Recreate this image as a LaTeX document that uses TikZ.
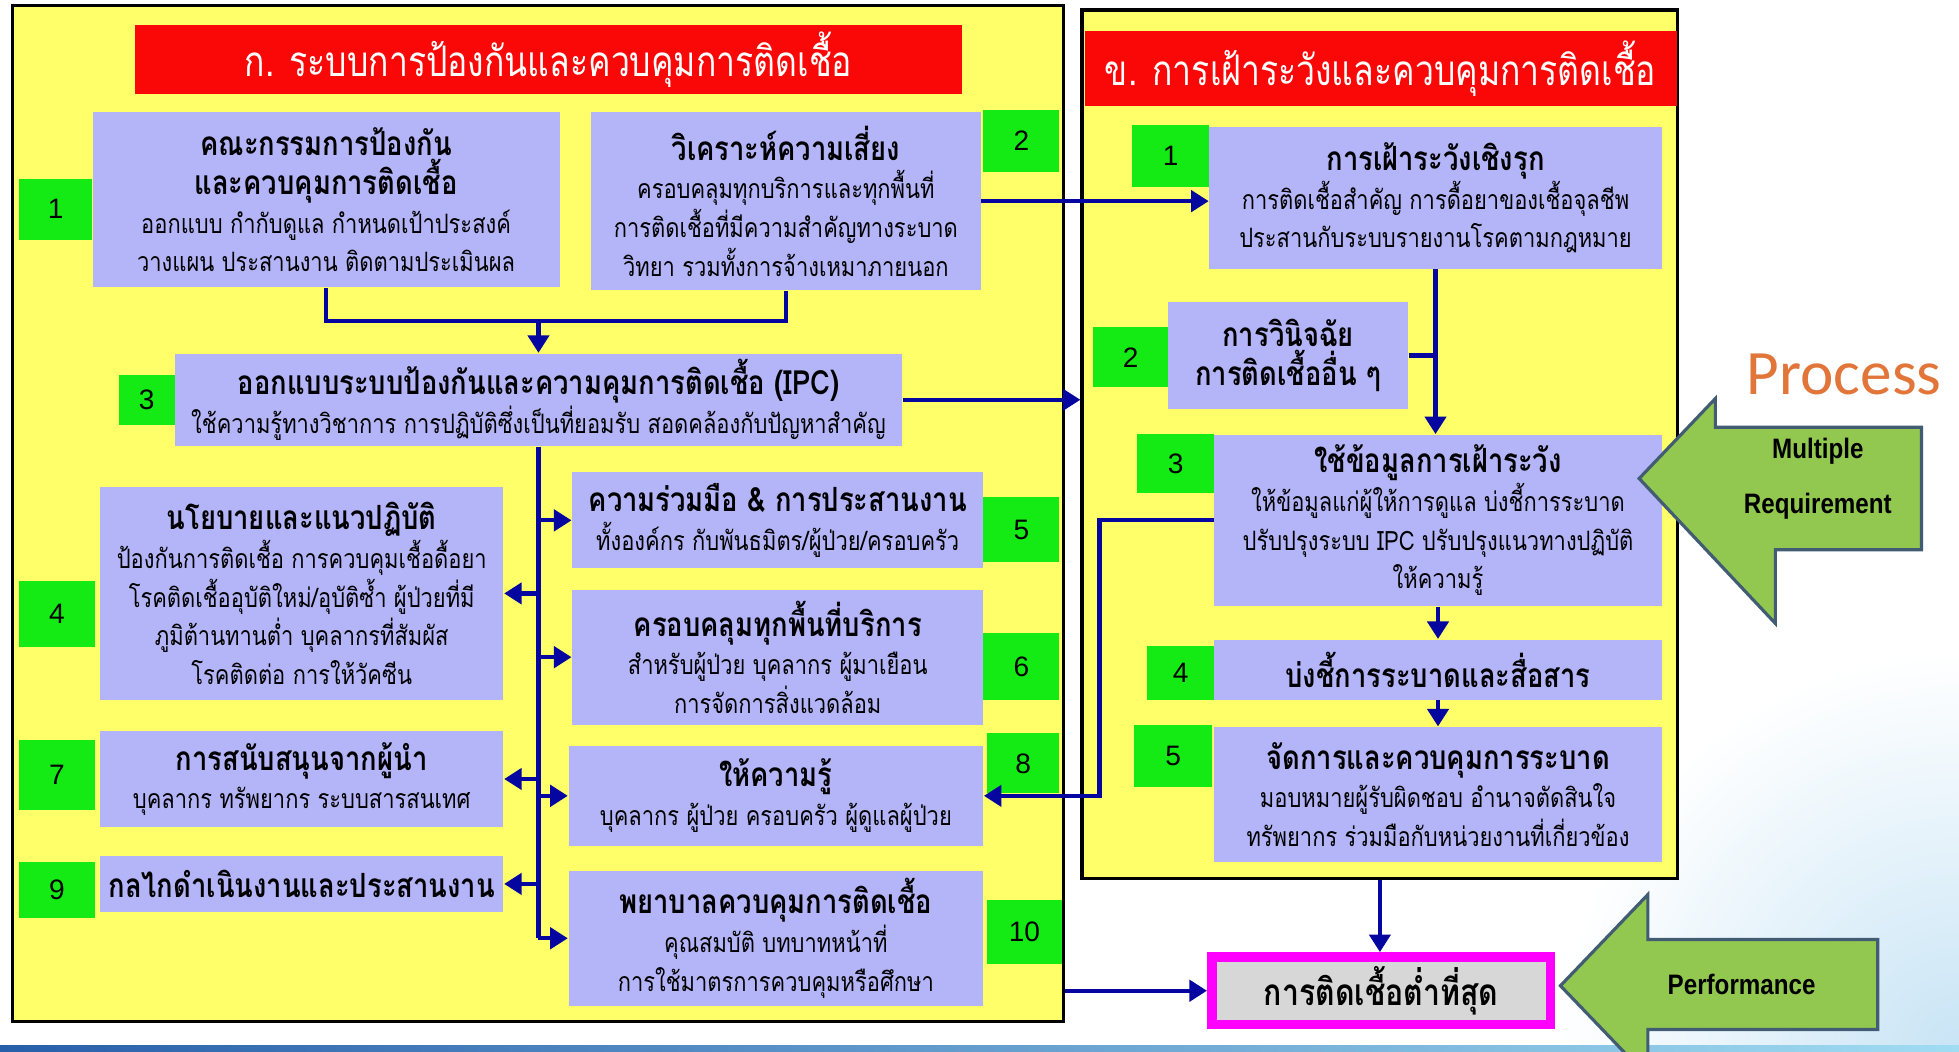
\documentclass[tikz,border=0pt]{standalone}
\usepackage{fontspec}
\setmainfont[Script=Thai,FakeStretch=0.82]{Loma}
\newfontfamily\titlefont[Script=Thai,FakeStretch=0.8]{Loma}
\newfontfamily\numfont{Liberation Sans}
\newfontfamily\narrowfont[FakeStretch=0.86]{Liberation Sans}
\newfontfamily\procfont{Carlito}
\usetikzlibrary{arrows.meta,positioning}
\definecolor{panelyellow}{RGB}{255,255,105}
\definecolor{boxlav}{RGB}{180,180,248}
\definecolor{taggreen}{RGB}{20,235,20}
\definecolor{titlered}{RGB}{250,8,8}
\definecolor{navy}{RGB}{5,5,160}
\definecolor{arrowgreen}{RGB}{146,200,80}
\definecolor{arrowedge}{RGB}{65,92,115}
\definecolor{outmagenta}{RGB}{255,0,255}
\definecolor{outgray}{RGB}{215,215,215}
\definecolor{procorange}{RGB}{226,118,58}
\definecolor{bandblue}{RGB}{40,95,170}
\definecolor{bandcyan}{RGB}{160,220,242}
\definecolor{glowblue}{RGB}{200,228,245}
\newcommand{\hd}[1]{{\bfseries\fontsize{9.5}{11}\selectfont #1}}

\begin{document}
\begin{tikzpicture}[
    x=0.012494cm, y=-0.012494cm,
    sz/.style 2 args={minimum width=#1*0.12494mm, minimum height=#2*0.12494mm},
    panel/.style={draw=black, line width=0.9pt, fill=panelyellow, inner sep=0pt},
    banner/.style={fill=titlered, text=white, inner sep=0pt,
        font=\titlefont\fontsize{12}{14}\selectfont},
    box/.style={fill=boxlav, align=center, inner sep=1pt,
        font=\fontsize{7.6}{11}\selectfont},
    tag/.style={fill=taggreen, inner sep=0pt, font=\numfont\fontsize{8}{10}\selectfont},
    goal/.style={draw=outmagenta, line width=2.8pt, fill=outgray, inner sep=0pt,
        font=\bfseries\fontsize{10.5}{12}\selectfont},
    flow/.style={-{Triangle[length=5pt,width=6pt]}, line width=1.2pt, draw=navy},
    link/.style={line width=1.2pt, draw=navy},
    bigarrow/.style={fill=arrowgreen, draw=arrowedge, line width=0.9pt, line join=miter},
    biglabel/.style={align=center, font=\narrowfont\bfseries\fontsize{8}{15.6}\selectfont}
]
\clip (0,0) rectangle (1568,842);
\fill[white] (0,0) rectangle (1568,842);
\shade[inner color=glowblue, outer color=white] (1568,842) circle (320);
\shade[left color=bandblue, right color=bandcyan] (0,837) rectangle (1568,842);

\node[panel, sz={841}{814}] (leftpanel) at (430.5,411) {};
\node[panel, sz={477}{695}] (rightpanel) at (1104.5,355.5) {};
\node[banner, sz={662}{55}] (titleA) at (439,47.5) {ก. ระบบการป้องกันและควบคุมการติดเชื้อ};
\node[banner, sz={474}{60}] (titleB) at (1105,55) {ข. การเฝ้าระวังและควบคุมการติดเชื้อ};

\node[box, sz={374}{140}] (committee) at (261,160) {\hd{คณะกรรมการป้องกัน}\\\hd{และควบคุมการติดเชื้อ}\\ออกแบบ กำกับดูแล กำหนดเป้าประสงค์\\วางแผน ประสานงาน ติดตามประเมินผล};
\node[tag, sz={59}{49}] (a1) at (44.5,167.5) {1};
\node[box, sz={312}{142}] (risk) at (629,161) {\hd{วิเคราะห์ความเสี่ยง}\\ครอบคลุมทุกบริการและทุกพื้นที่\\การติดเชื้อที่มีความสำคัญทางระบาด\\วิทยา รวมทั้งการจ้างเหมาภายนอก};
\node[tag, sz={61}{50}] (a2) at (817.5,113) {2};
\node[box, sz={582}{74}] (ipc) at (431,320) {\hd{ออกแบบระบบป้องกันและความคุมการติดเชื้อ (IPC)}\\ใช้ความรู้ทางวิชาการ การปฏิบัติซึ่งเป็นที่ยอมรับ สอดคล้องกับปัญหาสำคัญ};
\node[tag, sz={45}{40}] (a3) at (117.5,320) {3};
\node[box, sz={323}{170}] (policy) at (241.5,475) {\hd{นโยบายและแนวปฏิบัติ}\\ป้องกันการติดเชื้อ การควบคุมเชื้อดื้อยา\\โรคติดเชื้ออุบัติใหม่/อุบัติซ้ำ ผู้ป่วยที่มี\\ภูมิต้านทานต่ำ บุคลากรที่สัมผัส\\โรคติดต่อ การให้วัคซีน};
\node[tag, sz={61}{53}] (a4) at (45.5,491.5) {4};
\node[box, sz={329}{77}] (coop) at (622.5,416.5) {\hd{ความร่วมมือ \& การประสานงาน}\\ทั้งองค์กร กับพันธมิตร/ผู้ป่วย/ครอบครัว};
\node[tag, sz={61}{52}] (a5) at (817.5,424) {5};
\node[box, sz={329}{108}] (area) at (622.5,526) {\hd{ครอบคลุมทุกพื้นที่บริการ}\\สำหรับผู้ป่วย บุคลากร ผู้มาเยือน\\การจัดการสิ่งแวดล้อม};
\node[tag, sz={61}{53}] (a6) at (817.5,533.5) {6};
\node[box, sz={323}{77}] (leader) at (241.5,623.5) {\hd{การสนับสนุนจากผู้นำ}\\บุคลากร ทรัพยากร ระบบสารสนเทศ};
\node[tag, sz={61}{56}] (a7) at (45.5,620) {7};
\node[box, sz={332}{80}] (educ) at (621,637) {\hd{ให้ความรู้}\\บุคลากร ผู้ป่วย ครอบครัว ผู้ดูแลผู้ป่วย};
\node[tag, sz={58}{48}] (a8) at (819,611) {8};
\node[box, sz={323}{45}] (mech) at (241.5,707.5) {\hd{กลไกดำเนินงานและประสานงาน}};
\node[tag, sz={61}{45}] (a9) at (45.5,712.5) {9};
\node[box, sz={332}{108}] (icn) at (621,751) {\hd{พยาบาลควบคุมการติดเชื้อ}\\คุณสมบัติ บทบาทหน้าที่\\การใช้มาตรการควบคุมหรือศึกษา};
\node[tag, sz={60}{52}] (a10) at (820,746) {10};

\node[box, sz={362}{113}] (active) at (1149,158.5) {\hd{การเฝ้าระวังเชิงรุก}\\การติดเชื้อสำคัญ การดื้อยาของเชื้อจุลชีพ\\ประสานกับระบบรายงานโรคตามกฎหมาย};
\node[tag, sz={62}{50}] (b1) at (937,125) {1};
\node[box, sz={192}{85}] (diag) at (1031,284.5) {\hd{การวินิจฉัย}\\\hd{การติดเชื้ออื่น ๆ}};
\node[tag, sz={60}{48}] (b2) at (905,286) {2};
\node[box, sz={358}{137}] (usedata) at (1151,416.5) {\hd{ใช้ข้อมูลการเฝ้าระวัง}\\ให้ข้อมูลแก่ผู้ให้การดูแล บ่งชี้การระบาด\\ปรับปรุงระบบ IPC ปรับปรุงแนวทางปฏิบัติ\\ให้ความรู้};
\node[tag, sz={62}{48}] (b3) at (941,371) {3};
\node[box, sz={358}{48}] (outbreak) at (1151,536) {\hd{บ่งชี้การระบาดและสื่อสาร}};
\node[tag, sz={54}{43}] (b4) at (945,538.5) {4};
\node[box, sz={358}{108}] (manage) at (1151,636) {\hd{จัดการและควบคุมการระบาด}\\มอบหมายผู้รับผิดชอบ อำนาจตัดสินใจ\\ทรัพยากร ร่วมมือกับหน่วยงานที่เกี่ยวข้อง};
\node[tag, sz={62}{50}] (b5) at (939,605) {5};

\node[goal, sz={271}{54}] (lowest) at (1105.5,793) {การติดเชื้อต่ำที่สุด};

\coordinate (join) at (431,257);
\coordinate (fbk) at (880,637);

\draw[link] (committee.south) |- (join) -| (risk.south);
\draw[flow] (join) -- (ipc.north);
\draw[flow] (risk.east) -- (risk.east -| active.west);
\draw[flow] (ipc.east) -- (ipc.east -| rightpanel.west);
\draw[link] (ipc.south) -- (ipc.south |- icn);
\draw[flow] (ipc.south |- policy) -- (policy.east);
\draw[flow] (ipc.south |- leader) -- (leader.east);
\draw[flow] (ipc.south |- mech) -- (mech.east);
\draw[flow] (ipc.south |- coop) -- (coop.west);
\draw[flow] (ipc.south |- area) -- (area.west);
\draw[flow] (ipc.south |- educ) -- (educ.west);
\draw[flow] (ipc.south |- icn) -- (icn.west);
\draw[flow] (active.south) -- (active.south |- usedata.north);
\draw[link] (diag.east) -- (diag.east -| active.south);
\draw[flow] (usedata.west) -| (fbk) -- (educ.east);
\draw[flow] (usedata.south) -- (outbreak.north);
\draw[flow] (outbreak.south) -- (manage.north);
\draw[flow] (rightpanel.south) -- (rightpanel.south |- lowest.north);
\draw[flow] (leftpanel.east |- lowest.west) -- (lowest.west);

\draw[bigarrow] (1312,383) -- (1373,319) -- (1373,342) -- (1538,342) -- (1538,440) -- (1421,440) -- (1421,499) -- cycle;
\node[biglabel] (multi) at (1455,383) {Multiple\\Requirement};
\draw[bigarrow] (1249,789) -- (1319,716) -- (1319,752) -- (1503,752) -- (1503,824) -- (1319,824) -- (1319,862) -- cycle;
\node[biglabel] (perf) at (1394,788) {Performance};
\node[font=\procfont\fontsize{18}{20}\selectfont, text=procorange] (proc) at (1476,300) {Process};
\end{tikzpicture}
\end{document}
